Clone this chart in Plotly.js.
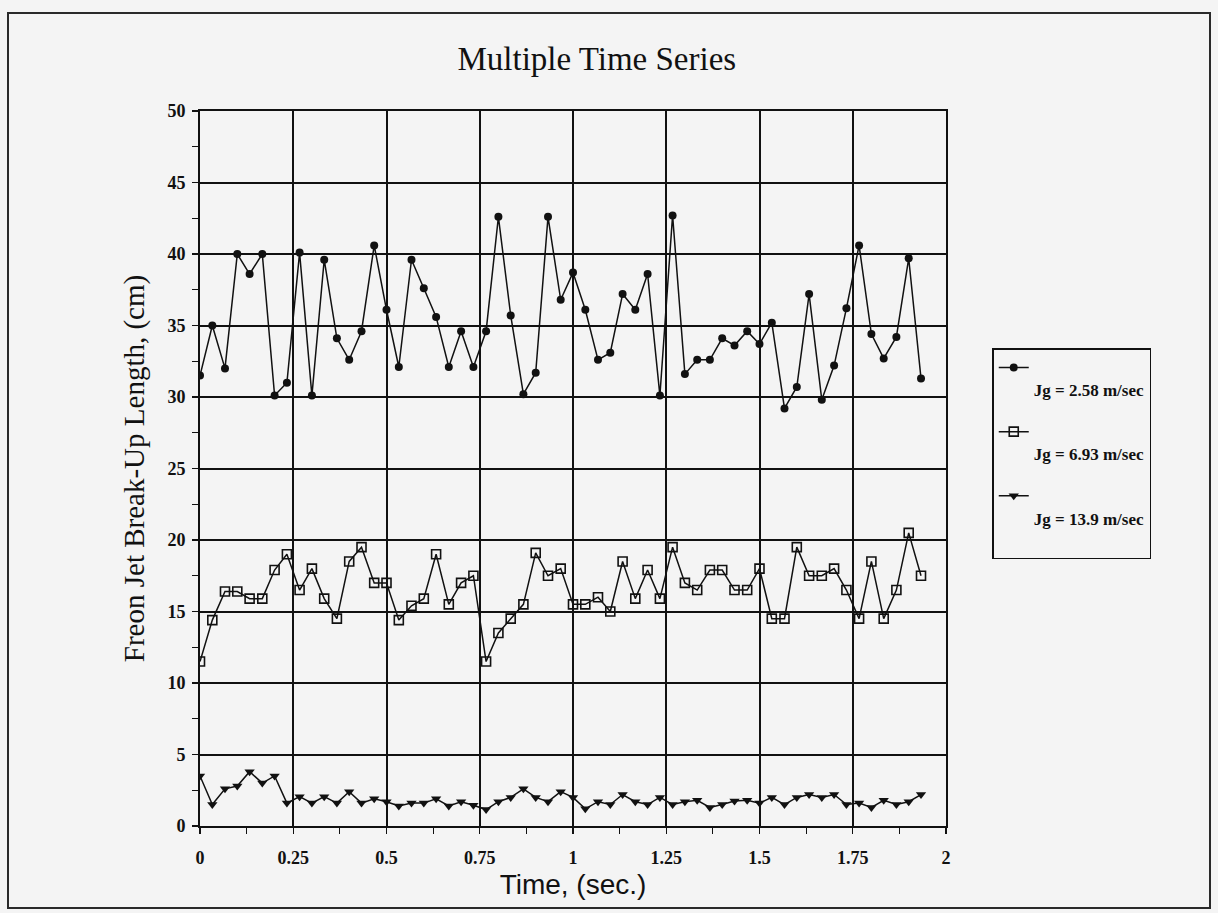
<!DOCTYPE html>
<html>
<head>
<meta charset="utf-8">
<script src="https://cdn.plot.ly/plotly-3.0.1.min.js"></script>
<style>
  html, body { margin: 0; padding: 0; background: #f4f4f4; }
  #chart { width: 1218px; height: 913px; }
  #frame { position: absolute; left: 7px; top: 12px; width: 1200px; height: 893px;
           border: 2px solid #2a2a2a; pointer-events: none; }
</style>
</head>
<body>
<div id="chart"></div>
<div id="frame"></div>
<script>
// Time (sec.)
const time = [0,0.033,0.067,0.1,0.133,0.167,0.2,0.233,0.267,0.3,0.333,0.367,0.4,0.433,0.467,0.5,
  0.533,0.567,0.6,0.633,0.667,0.7,0.733,0.767,0.8,0.833,0.867,0.9,0.933,0.967,1,1.033,1.067,1.1,
  1.133,1.167,1.2,1.233,1.267,1.3,1.333,1.367,1.4,1.433,1.467,1.5,1.533,1.567,1.6,1.633,1.667,
  1.7,1.733,1.767,1.8,1.833,1.867,1.9,1.933];

// Jg = 2.58 m/sec
const jg258 = [31.5,35.0,32.0,40.0,38.6,40.0,30.1,31.0,40.1,30.1,39.6,34.1,32.6,34.6,40.6,36.1,
  32.1,39.6,37.6,35.6,32.1,34.6,32.1,34.6,42.6,35.7,30.2,31.7,42.6,36.8,38.7,36.1,32.6,33.1,
  37.2,36.1,38.6,30.1,42.7,31.6,32.6,32.6,34.1,33.6,34.6,33.7,35.2,29.2,30.7,37.2,29.8,32.2,
  36.2,40.6,34.4,32.7,34.2,39.7,31.3];

// Jg = 6.93 m/sec
const jg693 = [11.5,14.4,16.4,16.4,15.9,15.9,17.9,19.0,16.5,18.0,15.9,14.5,18.5,19.5,17.0,17.0,
  14.4,15.4,15.9,19.0,15.5,17.0,17.5,11.5,13.5,14.5,15.5,19.1,17.5,18.0,15.5,15.5,16.0,15.0,
  18.5,15.9,17.9,15.9,19.5,17.0,16.5,17.9,17.9,16.5,16.5,18.0,14.5,14.5,19.5,17.5,17.5,18.0,
  16.5,14.5,18.5,14.5,16.5,20.5,17.5];

// Jg = 13.9 m/sec
const jg139 = [3.5,1.5,2.6,2.8,3.8,3.0,3.5,1.6,2.05,1.6,2.05,1.6,2.4,1.6,1.9,1.7,
  1.4,1.6,1.6,1.9,1.4,1.7,1.45,1.15,1.7,2.0,2.6,2.0,1.7,2.4,2.0,1.2,1.7,1.5,2.2,1.7,1.5,2.0,
  1.5,1.7,1.8,1.3,1.5,1.75,1.8,1.6,2.0,1.5,2.0,2.2,2.0,2.2,1.5,1.6,1.3,1.8,1.5,1.7,2.2];

const seriesNames = ["Jg = 2.58 m/sec", "Jg = 6.93 m/sec", "Jg = 13.9 m/sec"];

const xTickVals = [0,0.25,0.5,0.75,1,1.25,1.5,1.75,2];
const xTickText = ["0","0.25","0.5","0.75","1","1.25","1.5","1.75","2"];
const yTickVals = [0,5,10,15,20,25,30,35,40,45,50];
const yTickText = ["0","5","10","15","20","25","30","35","40","45","50"];

const ink = "#111111";
const bg = "#f4f4f4";

const traces = [
  { x: time, y: jg258, name: "<br>" + seriesNames[0], legendgroup: "g1", type: "scatter", mode: "lines+markers",
    line: { color: ink, width: 1.5 },
    marker: { symbol: "circle", size: 8, color: ink } },
  { x: time, y: jg693, name: "<br>" + seriesNames[1], legendgroup: "g2", type: "scatter", mode: "lines+markers",
    line: { color: ink, width: 1.5 },
    marker: { symbol: "square-open", size: 9, color: ink, line: { width: 1.6, color: ink } } },
  { x: time, y: jg139, name: "<br>" + seriesNames[2] + "<br> ", legendgroup: "g3", type: "scatter", mode: "lines+markers",
    line: { color: ink, width: 1.5 },
    marker: { symbol: "triangle-down", size: 9, color: ink } }
];

const tickFont = { family: "Liberation Serif, Times New Roman, serif", size: 18, color: ink, weight: 700 };

const layout = {
  width: 1218, height: 913,
  paper_bgcolor: bg, plot_bgcolor: bg,
  margin: { l: 200, r: 272, t: 111, b: 87 },
  title: { text: "Multiple Time Series", xref: "container", x: 0.49, xanchor: "center",
           yref: "container", y: 0.936, yanchor: "middle",
           font: { family: "Liberation Serif, Times New Roman, serif", size: 33, color: ink } },
  xaxis: {
    range: [0, 2], tickvals: xTickVals, ticktext: xTickText,
    showgrid: true, gridcolor: ink, gridwidth: 2,
    showline: true, linecolor: ink, linewidth: 2, mirror: true,
    ticks: "outside", ticklen: 6, tickcolor: ink, tickwidth: 1.2,
    minor: { dtick: 0.125, tick0: 0, ticks: "outside", ticklen: 6, tickcolor: ink, tickwidth: 1.2, showgrid: false },
    tickfont: tickFont, zeroline: false, ticklabelstandoff: 8,
    title: { text: "Time, (sec.)", standoff: 8,
             font: { family: "Liberation Sans, Arial, sans-serif", size: 28, color: ink } }
  },
  yaxis: {
    range: [0, 50], tickvals: yTickVals, ticktext: yTickText,
    showgrid: true, gridcolor: ink, gridwidth: 2,
    showline: true, linecolor: ink, linewidth: 2, mirror: true,
    ticks: "outside", ticklen: 6, tickcolor: ink, tickwidth: 1.2,
    minor: { dtick: 2.5, tick0: 0, ticks: "outside", ticklen: 6, tickcolor: ink, tickwidth: 1.2, showgrid: false },
    tickfont: tickFont, zeroline: false, ticklabelstandoff: 3,
    title: { text: "Freon Jet Break-Up Length, (cm)", standoff: 14,
             font: { family: "Liberation Serif, Times New Roman, serif", size: 29, color: ink } }
  },
  showlegend: true,
  legend: {
    x: 1.062, xanchor: "left", y: 0.668, yanchor: "top",
    bgcolor: bg, bordercolor: ink, borderwidth: 1.5,
    font: { family: "Liberation Serif, Times New Roman, serif", size: 17, color: ink, weight: 700 },
    valign: "top", itemwidth: 30, traceorder: "grouped", tracegroupgap: 17
  }
};

Plotly.newPlot("chart", traces, layout, { displayModeBar: false, staticPlot: true });
</script>
</body>
</html>
